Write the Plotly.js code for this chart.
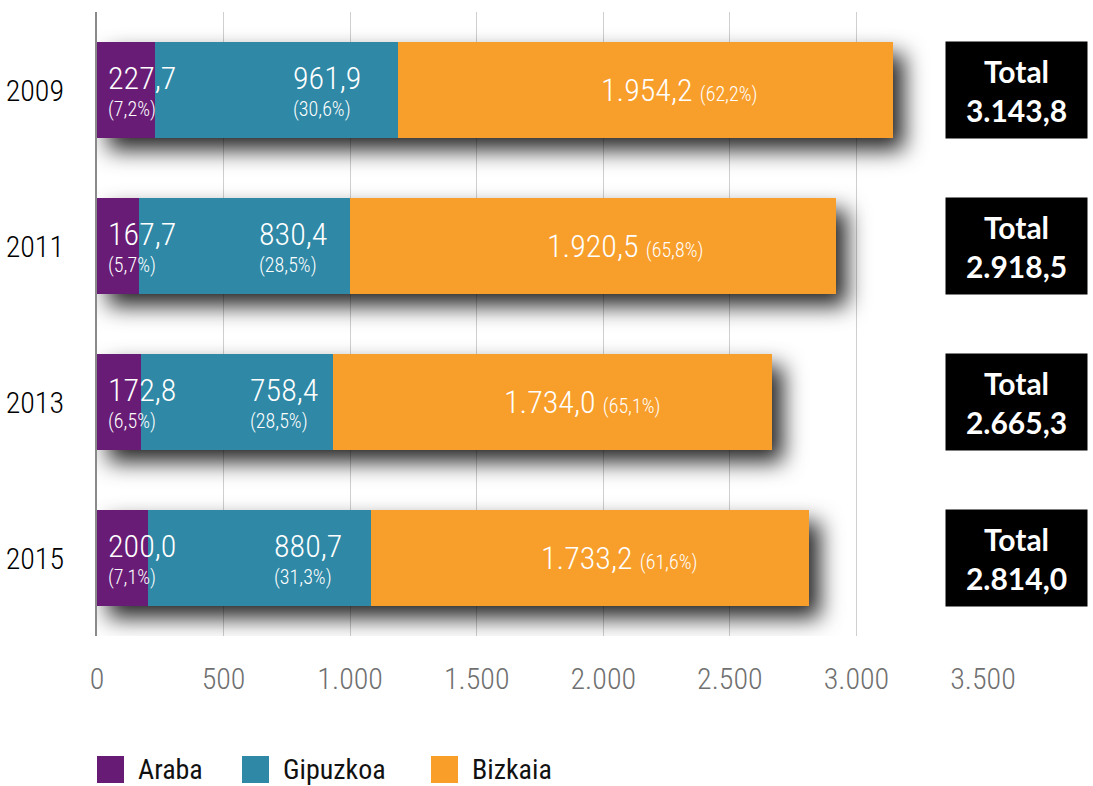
<!DOCTYPE html>
<html>
<head>
<meta charset="utf-8">
<script src="https://cdn.plot.ly/plotly-3.0.1.min.js"></script>
<style>
  html, body { margin: 0; padding: 0; background: #fff; }
  #chart { width: 1093px; height: 786px; }
</style>
</head>
<body>
<div id="chart"></div>
<script>
// ---- data ----
const years = ['2009', '2011', '2013', '2015'];
const araba = [227.7, 167.7, 172.8, 200.0];
const gipuzkoa = [961.9, 830.4, 758.4, 880.7];
const bizkaia = [1954.2, 1920.5, 1734.0, 1733.2];
const arabaPct = [7.2, 5.7, 6.5, 7.1];
const gipuzkoaPct = [30.6, 28.5, 28.5, 31.3];
const bizkaiaPct = [62.2, 65.8, 65.1, 61.6];
const totals = [3143.8, 2918.5, 2665.3, 2814.0];
const seriesNames = ['Araba', 'Gipuzkoa', 'Bizkaia'];
const xTickVals = [0, 500, 1000, 1500, 2000, 2500, 3000, 3500];
const totalLabel = 'Total';

// ---- styles ----
const colors = ['#671b74', '#2e88a6', '#f89e29'];
const NARROW = "'Liberation Sans Narrow', 'Roboto Condensed', 'DejaVu Sans Condensed', 'Arial Narrow', sans-serif";
const BOLD = "Lato, 'Open Sans', sans-serif";

function fmt(v) {
  const parts = v.toFixed(1).split('.');
  return parts[0].replace(/\B(?=(\d{3})+(?!\d))/g, '.') + ',' + parts[1];
}
function pct(v) { return '(' + v.toFixed(1).replace('.', ',') + '%)'; }

const seriesVals = [araba, gipuzkoa, bizkaia];
const traces = seriesNames.map((name, i) => ({
  type: 'bar',
  orientation: 'h',
  name: name,
  y: years,
  x: seriesVals[i],
  marker: { color: colors[i], line: { width: 0 } },
  hoverinfo: 'skip',
  showlegend: false
}));

const annotations = [];
const bigFont = { family: NARROW, size: 32, color: '#ffffff', weight: 300 };
const smallFont = { family: NARROW, size: 20, color: '#ffffff', weight: 300 };
years.forEach((yr, k) => {
  // category index k on the y axis
  annotations.push({ xref: 'x', yref: 'y', x: 0, y: k, xanchor: 'left', yanchor: 'middle',
    xshift: 9, yshift: 12, text: fmt(araba[k]), showarrow: false, font: bigFont });
  annotations.push({ xref: 'x', yref: 'y', x: 0, y: k, xanchor: 'left', yanchor: 'middle',
    xshift: 9, yshift: -19, text: pct(arabaPct[k]), showarrow: false, font: smallFont });
  const gx = araba[k] + gipuzkoa[k] * 0.56;
  annotations.push({ xref: 'x', yref: 'y', x: gx, y: k, xanchor: 'left', yanchor: 'middle',
    yshift: 12, text: fmt(gipuzkoa[k]), showarrow: false, font: bigFont });
  annotations.push({ xref: 'x', yref: 'y', x: gx, y: k, xanchor: 'left', yanchor: 'middle',
    yshift: -19, text: pct(gipuzkoaPct[k]), showarrow: false, font: smallFont });
  const bx = araba[k] + gipuzkoa[k] + bizkaia[k] * 0.567;
  annotations.push({ xref: 'x', yref: 'y', x: bx, y: k, xanchor: 'center', yanchor: 'middle',
    text: fmt(bizkaia[k]) + ' <span style="font-size:20px">' + pct(bizkaiaPct[k]) + '</span>',
    showarrow: false, font: bigFont });
  annotations.push({ xref: 'paper', yref: 'y', x: 1, y: k, xanchor: 'center', yanchor: 'middle',
    xshift: 33.5, text: totalLabel + '<br>' + fmt(totals[k]), showarrow: false,
    bgcolor: '#000000', width: 141, height: 96, borderpad: 0, align: 'center',
    font: { family: BOLD, size: 30, color: '#ffffff', weight: 700 } });
});

// ---- custom legend (swatches + names), placed in paper coordinates ----
const PL = 97, PW = 886, PB = 636, PH = 624;
const px2x = p => (p - PL) / PW;
const px2y = p => (PB - p) / PH;
const legendSwatchLeft = [97, 242, 431];
const shapes = [];
seriesNames.forEach((name, i) => {
  const l = legendSwatchLeft[i];
  shapes.push({ type: 'rect', xref: 'paper', yref: 'paper', layer: 'above',
    x0: px2x(l), x1: px2x(l + 27), y0: px2y(783), y1: px2y(756),
    fillcolor: colors[i], line: { width: 0 } });
  annotations.push({ xref: 'paper', yref: 'paper', x: px2x(l + 39), y: px2y(769.5),
    xanchor: 'left', yanchor: 'middle', text: name, showarrow: false,
    font: { family: NARROW, size: 28, color: '#111111' } });
});

const layout = {
  width: 1093, height: 786,
  margin: { l: 97, r: 110, t: 12, b: 150, pad: 0 },
  paper_bgcolor: '#ffffff', plot_bgcolor: '#ffffff',
  separators: ',.',
  barmode: 'stack',
  bargap: 0.385,
  showlegend: false,
  xaxis: {
    range: [0, 3500], autorange: false, tickvals: xTickVals, separatethousands: true,
    showgrid: true, gridcolor: '#cfcfcf', gridwidth: 1, zeroline: false, showline: false,
    ticks: '', ticklabelstandoff: 22,
    tickfont: { family: NARROW, size: 30, color: '#707070', weight: 300 }, fixedrange: true
  },
  yaxis: {
    type: 'category', categoryorder: 'array', categoryarray: years,
    range: [3.5, -0.5], autorange: false, showgrid: false, zeroline: false,
    showline: true, linecolor: '#8a8a8a', linewidth: 2, ticks: '', ticklabelstandoff: 25,
    tickfont: { family: NARROW, size: 30, color: '#000000', weight: 300 }, fixedrange: true
  },
  shapes: shapes,
  annotations: annotations
};

Plotly.newPlot('chart', traces, layout, { displayModeBar: false, staticPlot: true }).then(gd => {
  const svg = gd.querySelector('.main-svg');
  const ns = 'http://www.w3.org/2000/svg';
  let defs = svg.querySelector('defs');
  if (!defs) { defs = document.createElementNS(ns, 'defs'); svg.insertBefore(defs, svg.firstChild); }
  const filter = document.createElementNS(ns, 'filter');
  filter.setAttribute('id', 'barShadow');
  filter.setAttribute('x', '-10%'); filter.setAttribute('y', '-20%');
  filter.setAttribute('width', '130%'); filter.setAttribute('height', '150%');
  const ds = document.createElementNS(ns, 'feDropShadow');
  ds.setAttribute('dx', '11'); ds.setAttribute('dy', '12');
  ds.setAttribute('stdDeviation', '11');
  ds.setAttribute('flood-color', '#000'); ds.setAttribute('flood-opacity', '0.85');
  filter.appendChild(ds);
  defs.appendChild(filter);
  gd.querySelectorAll('.barlayer').forEach(g => g.setAttribute('filter', 'url(#barShadow)'));
});
</script>
</body>
</html>
